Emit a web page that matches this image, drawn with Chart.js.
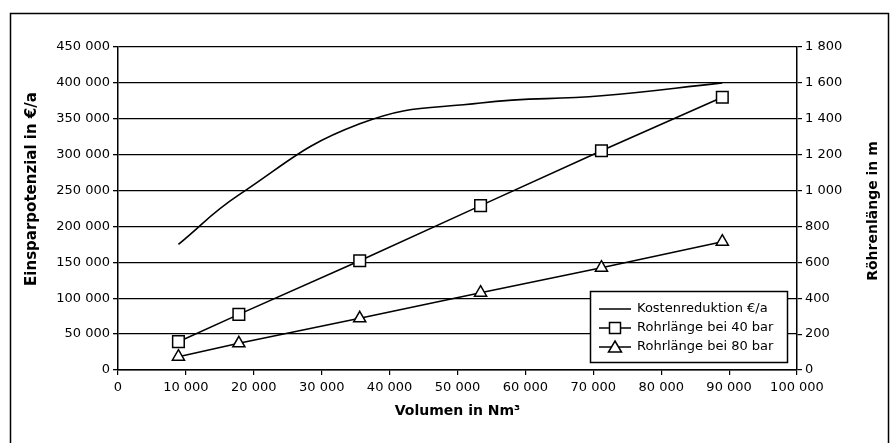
<!DOCTYPE html>
<html>
<head>
<meta charset="utf-8">
<script src="https://cdn.jsdelivr.net/npm/chart.js@4.4.1/dist/chart.umd.min.js"></script>
<style>
  html, body { margin: 0; padding: 0; background: #fff; }
</style>
</head>
<body>
<canvas id="chart-volumen" width="896" height="443"></canvas>
<script>
// Werte
var volumen = [8900, 17800, 35600, 53400, 71200, 89000];          // Nm³
var kostenreduktion = [175000, 244000, 343000, 372000, 382000, 400000]; // €/a
var rohrlaenge40 = [158, 310, 609, 916, 1222, 1520];               // m
var rohrlaenge80 = [74, 149, 288, 431, 570, 715];                  // m

var labelKosten = "Kostenreduktion €/a";
var label40 = "Rohrlänge bei 40 bar";
var label80 = "Rohrlänge bei 80 bar";
var titelLinks = "Einsparpotenzial in €/a";
var titelRechts = "Röhrenlänge in m";

var fontFamily = "'DejaVu Sans', sans-serif";

function toPoints(xs, ys) {
  return xs.map(function (x, i) { return { x: x, y: ys[i] }; });
}

// 450000 -> "450 000"
function spaced(v) {
  return String(v).replace(/\B(?=(\d{3})+(?!\d))/g, " ");
}

// Rahmen um das ganze Bild
var framePlugin = {
  id: "frame",
  beforeDraw: function (chart) {
    var c = chart.ctx;
    c.save();
    c.fillStyle = "#fff";
    c.fillRect(0, 0, chart.width, chart.height);
    c.strokeStyle = "#000";
    c.lineWidth = 1.5;
    c.strokeRect(10.5, 13.5, 878, 445);
    c.restore();
  }
};

// beide Y-Achsentitel von unten nach oben lesbar
var yTitles = {
  id: "yTitles",
  afterDraw: function (chart) {
    var c = chart.ctx;
    function vert(text, x, y, size) {
      c.save();
      c.translate(x, y);
      c.rotate(-Math.PI / 2);
      c.font = "bold " + size + "px " + fontFamily;
      c.fillStyle = "#000";
      c.textAlign = "center";
      c.textBaseline = "middle";
      c.fillText(text, 0, 0);
      c.restore();
    }
    vert(titelLinks, 32, 189, 15);
    vert(titelRechts, 873, 211, 14);
  }
};

// Legende im Diagrammbereich unten rechts
var boxLegend = {
  id: "boxLegend",
  afterDraw: function (chart) {
    var c = chart.ctx;
    var area = chart.chartArea;
    var w = 197, h = 71;
    var x0 = area.right - 10 - w, y0 = area.bottom - 8 - h;
    c.save();
    c.fillStyle = "#fff";
    c.fillRect(x0, y0, w, h);
    c.strokeStyle = "#000";
    c.lineWidth = 1.5;
    c.strokeRect(x0 + 0.5, y0 + 0.5, w, h);
    c.font = "13px " + fontFamily;
    c.textBaseline = "middle";
    chart.data.datasets.forEach(function (ds, i) {
      var y = y0 + 18 + i * 19;
      var lx = x0 + 9, rx = x0 + 41, mx = (lx + rx) / 2;
      c.strokeStyle = "#000";
      c.lineWidth = 1.5;
      c.beginPath();
      c.moveTo(lx, y);
      c.lineTo(rx, y);
      c.stroke();
      if (ds.pointStyle === "rect") {
        c.fillStyle = "#fff";
        c.fillRect(mx - 5.5, y - 5.5, 11, 11);
        c.strokeRect(mx - 5.5, y - 5.5, 11, 11);
      } else if (ds.pointStyle === "triangle") {
        c.fillStyle = "#fff";
        c.beginPath();
        c.moveTo(mx, y - 6);
        c.lineTo(mx + 6.5, y + 5);
        c.lineTo(mx - 6.5, y + 5);
        c.closePath();
        c.fill();
        c.stroke();
      }
      c.fillStyle = "#000";
      c.fillText(ds.label, x0 + 47, y);
    });
    c.restore();
  }
};

var ctx = document.getElementById("chart-volumen").getContext("2d");
var chart = new Chart(ctx, {
  type: "line",
  data: {
    datasets: [
      {
        label: labelKosten,
        data: toPoints(volumen, kostenreduktion),
        yAxisID: "y",
        borderColor: "#000",
        borderWidth: 1.6,
        pointRadius: 0,
        pointStyle: "line",
        tension: 0.45,
        fill: false
      },
      {
        label: label40,
        data: toPoints(volumen, rohrlaenge40),
        yAxisID: "y2",
        borderColor: "#000",
        backgroundColor: "#fff",
        borderWidth: 1.6,
        pointStyle: "rect",
        pointRadius: 8.2,
        pointBorderWidth: 1.5,
        pointBackgroundColor: "#fff",
        tension: 0,
        fill: false
      },
      {
        label: label80,
        data: toPoints(volumen, rohrlaenge80),
        yAxisID: "y2",
        borderColor: "#000",
        backgroundColor: "#fff",
        borderWidth: 1.6,
        pointStyle: "triangle",
        pointRadius: 7,
        pointBorderWidth: 1.5,
        pointBackgroundColor: "#fff",
        tension: 0,
        fill: false
      }
    ]
  },
  options: {
    responsive: false,
    animation: false,
    layout: { padding: { left: 20, right: 18, top: 47, bottom: 19 } },
    plugins: {
      legend: { display: false },
      tooltip: { enabled: false }
    },
    scales: {
      x: {
        type: "linear",
        min: 0,
        max: 100000,
        afterFit: function (s) { s.height = 54; },
        ticks: {
          stepSize: 10000,
          padding: 5,
          color: "#000",
          font: { family: fontFamily, size: 13 },
          maxRotation: 0,
          callback: function (v) { return spaced(v); }
        },
        grid: { drawOnChartArea: false, color: "#000", tickLength: 5, lineWidth: 1.2 },
        border: { color: "#000", width: 1.5 },
        title: {
          display: true,
          text: "Volumen in Nm³",
          color: "#000",
          font: { family: fontFamily, size: 14, weight: "bold" }
        }
      },
      y: {
        position: "left",
        min: 0,
        max: 450000,
        afterFit: function (s) { s.width = 98; },
        ticks: {
          stepSize: 50000,
          padding: 3,
          color: "#000",
          font: { family: fontFamily, size: 13 },
          callback: function (v) { return spaced(v); }
        },
        grid: { color: "#000", lineWidth: 1.3, tickLength: 5 },
        border: { color: "#000", width: 1.5 }
      },
      y2: {
        position: "right",
        min: 0,
        max: 1800,
        afterFit: function (s) { s.width = 81; },
        ticks: {
          stepSize: 200,
          padding: 3,
          color: "#000",
          font: { family: fontFamily, size: 13 },
          callback: function (v) { return spaced(v); }
        },
        grid: { drawOnChartArea: false, color: "#000", tickLength: 5, lineWidth: 1.2 },
        border: { color: "#000", width: 1.5 }
      }
    }
  },
  plugins: [framePlugin, yTitles, boxLegend]
});
</script>
</body>
</html>
